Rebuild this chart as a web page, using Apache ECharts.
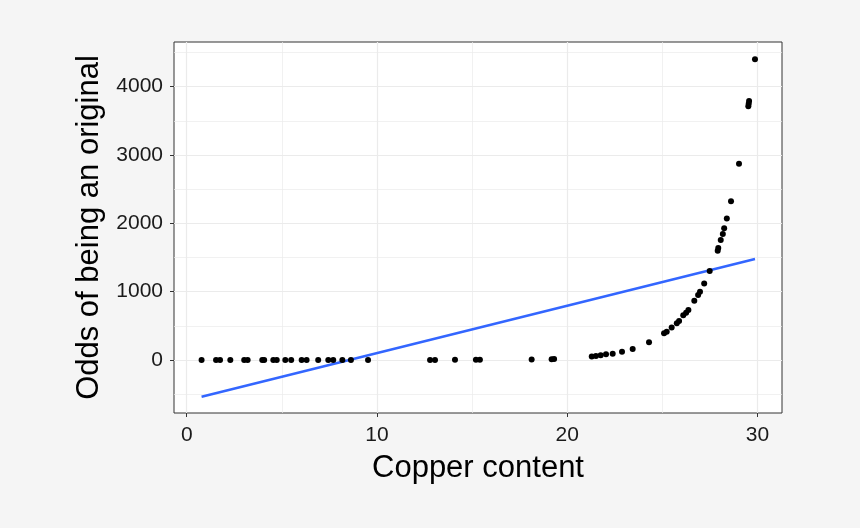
<!DOCTYPE html>
<html>
<head>
<meta charset="utf-8">
<script src="https://cdn.jsdelivr.net/npm/echarts@6/dist/echarts.min.js"></script>
<style>
html,body{margin:0;padding:0;background:#f5f5f5;}
#chart{width:860px;height:528px;}
</style>
</head>
<body>
<div id="chart"></div>
<script>
// Copper content (x) and odds of being an original (y)
const copper = [0.78, 1.54, 1.75, 2.29, 3.02, 3.20, 3.97, 4.07, 4.55, 4.73, 5.18, 5.49, 6.04, 6.30, 6.91, 7.44, 7.70, 8.18, 8.63, 9.53,
  12.79, 13.05, 14.10, 15.20, 15.41, 18.13, 19.18, 19.31,
  21.29, 21.51, 21.76, 22.04, 22.39, 22.88, 23.44, 24.30, 25.09, 25.23, 25.49, 25.76, 25.88, 26.10, 26.25, 26.37, 26.68, 26.88, 26.98, 27.20, 27.49,
  27.91, 27.94, 28.07, 28.18, 28.25, 28.39, 28.61, 29.03, 29.52, 29.54, 29.56, 29.87];
const odds = [0, 0, 0, 0, 0, 0, 0, 0, 0, 0, 0, 0, 0, 0, 0, 0, 0, 0, 0, 0,
  1, 1, 2, 3, 3, 8, 12, 13,
  50, 60, 70, 83, 92, 120, 160, 260, 390, 415, 475, 537, 570, 653, 690, 730, 868, 950, 1000, 1120, 1302,
  1600, 1639, 1756, 1844, 1928, 2069, 2323, 2873, 3713, 3752, 3790, 4401];
// Linear fit endpoints
const fitX = [0.78, 29.87];
const fitY = [-537, 1478];
// Tick values
const xMajor = [0, 10, 20, 30];
const xMinor = [5, 15, 25];
const yMajor = [0, 1000, 2000, 3000, 4000];
const yMinor = [-500, 500, 1500, 2500, 3500, 4500];
const xRange = [-0.67, 31.29];
const yRange = [-776, 4654];

const FONT = '"Liberation Sans", Arial, sans-serif';
const chart = echarts.init(document.getElementById('chart'));
const points = copper.map((c, i) => [c, odds[i]]);
const fit = fitX.map((x, i) => [x, fitY[i]]);

const gridLine = (w) => ({show: true, lineStyle: {color: '#ebebeb', width: w}});
const plain = (v) => String(v);
chart.setOption({
  backgroundColor: '#f5f5f5',
  animation: false,
  grid: {left: 174, top: 42, width: 608, height: 371, show: true, backgroundColor: '#ffffff', borderColor: '#333333', borderWidth: 1},
  xAxis: [
    {type: 'value', min: xRange[0], max: xRange[1], position: 'bottom',
     name: 'Copper content', nameLocation: 'middle', nameGap: 40,
     nameTextStyle: {fontFamily: FONT, fontSize: 31, color: '#000'},
     axisLine: {show: false, onZero: false},
     axisTick: {show: true, inside: false, length: 4, customValues: xMajor, lineStyle: {color: '#333', width: 1}},
     axisLabel: {customValues: xMajor, formatter: plain, fontFamily: FONT, fontSize: 21, color: '#1a1a1a', margin: 12},
     splitLine: gridLine(1.2), z: 1},
    {type: 'value', min: xRange[0], max: xRange[1], position: 'bottom',
     axisLine: {show: false, onZero: false}, axisTick: {show: false, customValues: xMinor},
     axisLabel: {show: false, customValues: xMinor},
     splitLine: gridLine(0.7), z: 0}
  ],
  yAxis: [
    {type: 'value', min: yRange[0], max: yRange[1], position: 'left',
     name: 'Odds of being an original', nameLocation: 'middle', nameGap: 63, nameRotate: 90,
     nameTextStyle: {fontFamily: FONT, fontSize: 31, color: '#000'},
     axisLine: {show: false, onZero: false},
     axisTick: {show: true, inside: false, length: 4, customValues: yMajor, lineStyle: {color: '#333', width: 1}},
     axisLabel: {customValues: yMajor, formatter: plain, fontFamily: FONT, fontSize: 21, color: '#1a1a1a', margin: 11},
     splitLine: gridLine(1.2), z: 1},
    {type: 'value', min: yRange[0], max: yRange[1], position: 'left',
     axisLine: {show: false, onZero: false}, axisTick: {show: false, customValues: yMinor},
     axisLabel: {show: false, customValues: yMinor},
     splitLine: gridLine(0.7), z: 0}
  ],
  series: [
    {type: 'line', data: fit, xAxisIndex: 0, yAxisIndex: 0, showSymbol: false, symbol: 'none',
     lineStyle: {color: '#3366ff', width: 2.5}, z: 2, silent: true},
    {type: 'scatter', data: points, xAxisIndex: 0, yAxisIndex: 0, symbolSize: 6,
     itemStyle: {color: '#000000', opacity: 1}, z: 3}
  ]
});
</script>
</body>
</html>
